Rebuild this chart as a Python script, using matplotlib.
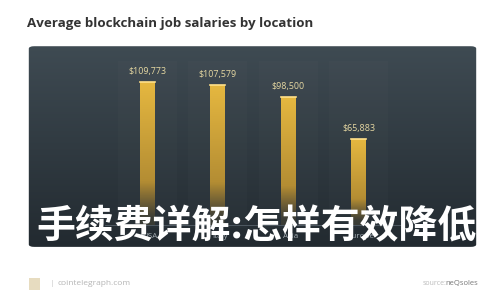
import numpy as np
import matplotlib
matplotlib.use('Agg')
from matplotlib import pyplot as plt
from matplotlib.patches import FancyBboxPatch, Rectangle

plt.rcParams['font.family'] = ['Open Sans', 'Noto Sans CJK SC', 'DejaVu Sans']

locations = ['USA', 'Italy', 'Asia', 'Europe']
salaries = [109773, 107579, 98500, 65883]
value_labels = ['$109,773', '$107,579', '$98,500', '$65,883']

title = 'Average blockchain job salaries by location'
overlay = '手续费详解:怎样有效降低'

fig = plt.figure(figsize=(5, 3), dpi=100)
fig.patch.set_facecolor('white')

fig.text(0.054, 0.923, title, fontsize=9.6, fontweight='bold', color='#333333',
         va='center', ha='left')

# panel axes
ax = fig.add_axes([0.054, 0.173, 0.902, 0.677])
x = np.arange(len(locations))
ax.set_xlim(-1.714, 4.70)
ax.set_ylim(-17710, 138600)
ax.set_axis_off()

panel = FancyBboxPatch((0.004, 0.006), 0.992, 0.988, boxstyle='round,pad=0,rounding_size=0.012',
                       transform=ax.transAxes, facecolor='none', edgecolor='none')
ax.add_patch(panel)
grad = np.linspace(0, 1, 256)[:, None]
top = np.array([0x3f, 0x4b, 0x53]) / 255
bot = np.array([0x22, 0x2a, 0x30]) / 255
bg = top[None, None, :] * (1 - grad[..., None]) + bot[None, None, :] * grad[..., None]
im = ax.imshow(bg, extent=[-1.714, 4.70, -17710, 138600], aspect='auto', zorder=0)
im.set_clip_path(panel)

# faint column bands
for xi in x:
    ax.add_patch(Rectangle((xi - 0.42, -2000), 0.84, 128000, facecolor='white',
                           alpha=0.015, edgecolor='none', zorder=1))

# baseline
ax.plot([-0.6, 3.6], [0, 0], color='#55616a', lw=0.6, zorder=1)

# bars with gradient
w = 0.21
for xi, v in zip(x, salaries):
    t = np.linspace(0, 1, 200)[:, None]
    col = np.zeros((200, 2, 4))
    gold_top = np.array([0.90, 0.72, 0.25])
    gold_bot = np.array([0.62, 0.48, 0.18])
    col[..., :3] = (gold_top * (1 - t[..., None]) + gold_bot * t[..., None])
    alpha = np.clip(1.0 - (t - 0.7) / 0.3, 0.15, 1.0)
    col[..., 3] = alpha
    ax.imshow(col, extent=[xi - w / 2, xi + w / 2, 0, v], aspect='auto', zorder=2)
    ax.plot([xi - w / 2, xi + w / 2], [v, v], color='#ffe08a', lw=1.2, zorder=3)

for xi, v, lab in zip(x, salaries, value_labels):
    ax.text(xi, v + 5000, lab, ha='center', va='bottom', fontsize=6.4, color='#e6d8a2', zorder=4)

for xi, loc in zip(x, locations):
    ax.text(xi + 0.03, -8500, loc, ha='center', va='center', fontsize=5.8, color='#a7b0b6', zorder=4)

# overlay text
fig.text(0.072, 0.245, overlay, fontsize=28, fontweight='bold', color='white',
         ha='left', va='center', family=['Noto Sans CJK SC', 'DejaVu Sans'])

# footer
fig.patches.append(Rectangle((0.058, 0.035), 0.022, 0.04, transform=fig.transFigure,
                             facecolor='#e7dcc0', edgecolor='none'))
fig.text(0.1, 0.055, '|', fontsize=6, color='#cccccc', va='center')
fig.text(0.114, 0.055, 'cointelegraph.com', fontsize=6, color='#b5b5b5', va='center')
fig.text(0.893, 0.055, 'source:', fontsize=5, color='#bbbbbb', va='center', ha='right')
fig.text(0.956, 0.055, 'neQsoles', fontsize=5.5, color='#777777', va='center', ha='right')

fig.savefig('out.png', dpi=100)
